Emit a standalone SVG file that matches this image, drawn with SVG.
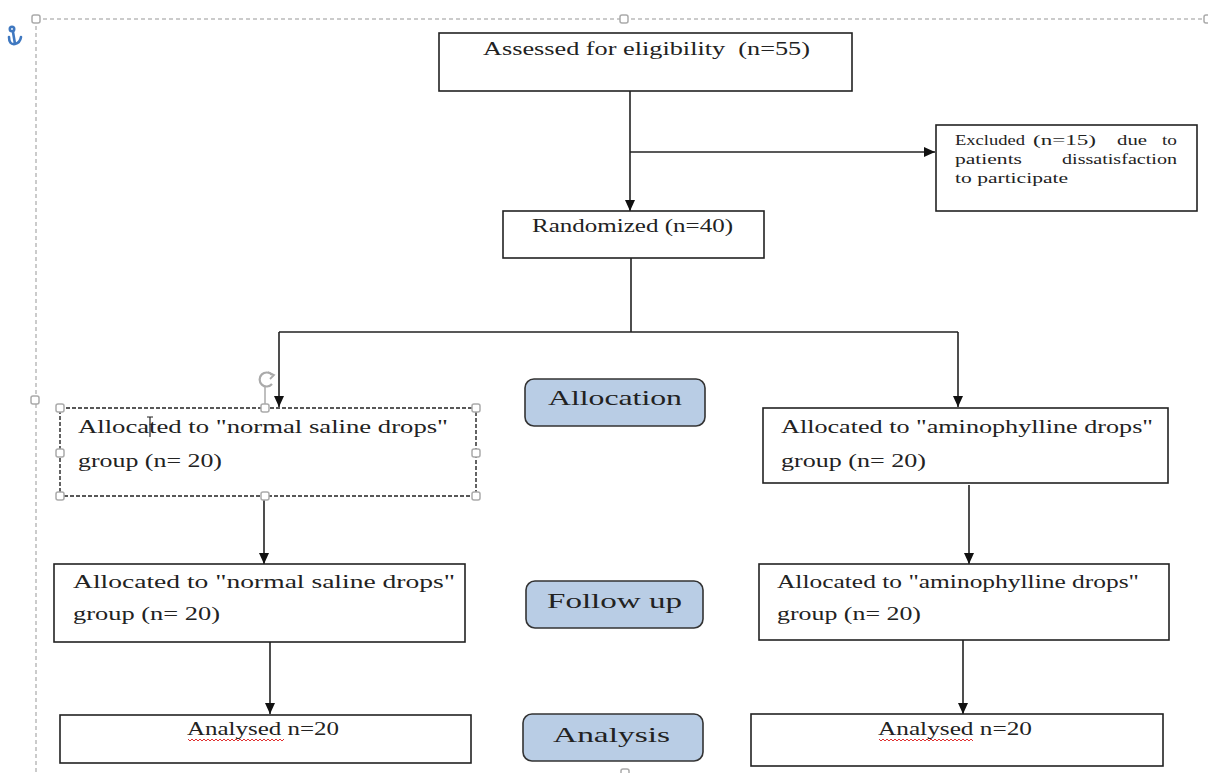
<svg xmlns="http://www.w3.org/2000/svg" width="1208" height="773" viewBox="0 0 1208 773">
<style>
.box{fill:#fff;stroke:#222;stroke-width:1.6}
.stage{fill:#b9cde5;stroke:#333;stroke-width:1.6}
.t{font-family:"Liberation Serif","Times New Roman",serif;fill:#222}
.m{font-size:18px}
.s{font-size:15px}
.st{font-size:21px}
.con{fill:none;stroke:#222;stroke-width:1.6}
.hd{fill:#fff;stroke:#aaa;stroke-width:1.5}
.frame{fill:none;stroke:#bbb;stroke-width:1.5;stroke-dasharray:4 3}
.wave{fill:none;stroke:#e03030;stroke-width:1}
</style>
<defs>
<marker id="arr" markerUnits="userSpaceOnUse" markerWidth="12" markerHeight="12" refX="11" refY="5" orient="auto">
<path d="M0,0 L11,5 L0,10 Z" fill="#111"/>
</marker>
</defs>
<rect width="1208" height="773" fill="#fff"/>

<g id="frame">
<path class="frame" d="M36,19 H1208 M36,19 V773"/>
<rect class="hd" x="32" y="15" width="8" height="8" rx="2"/>
<rect class="hd" x="620" y="15" width="8" height="8" rx="2"/>
<rect class="hd" x="1204" y="15" width="8" height="8" rx="2"/>
<rect class="hd" x="31" y="396" width="8" height="8" rx="2"/>
<rect class="hd" x="621" y="769" width="8" height="8" rx="2"/>
<g id="anchor" fill="none" stroke="#3f78c0" stroke-width="2.6" stroke-linecap="round">
<circle cx="12" cy="29" r="2.2"/>
<path d="M13,32 L15,44 M9,37 Q9,45 15,44 Q20,43 21,37"/>
</g>
</g>

<g id="connectors">
<path class="con" d="M630,91 V211" marker-end="url(#arr)"/>
<path class="con" d="M630,152 H935" marker-end="url(#arr)"/>
<path class="con" d="M631,258 V332 M279,332 H958"/>
<path class="con" d="M279,332 V407" marker-end="url(#arr)"/>
<path class="con" d="M958,332 V407" marker-end="url(#arr)"/>
<path class="con" d="M264,500 V564" marker-end="url(#arr)"/>
<path class="con" d="M969,485 V564" marker-end="url(#arr)"/>
<path class="con" d="M270,642 V714" marker-end="url(#arr)"/>
<path class="con" d="M963,640 V714" marker-end="url(#arr)"/>
</g>

<g id="n-assessed">
<rect class="box" x="439" y="33" width="413" height="58"/>
<text class="t m" x="483" y="55" textLength="327" lengthAdjust="spacingAndGlyphs">Assessed for eligibility &#160;(n=55)</text>
</g>

<g id="n-excluded">
<rect class="box" x="936" y="125" width="261" height="86"/>
<text class="t s" x="955" y="145" textLength="70" lengthAdjust="spacingAndGlyphs">Excluded</text>
<text class="t s" x="1033" y="145" textLength="63" lengthAdjust="spacingAndGlyphs">(n=15)</text>
<text class="t s" x="1117" y="145" textLength="30" lengthAdjust="spacingAndGlyphs">due</text>
<text class="t s" x="1162" y="145" textLength="15" lengthAdjust="spacingAndGlyphs">to</text>
<text class="t s" x="955" y="164" textLength="67" lengthAdjust="spacingAndGlyphs">patients</text>
<text class="t s" x="1062" y="164" textLength="115" lengthAdjust="spacingAndGlyphs">dissatisfaction</text>
<text class="t s" x="955" y="183" textLength="113" lengthAdjust="spacingAndGlyphs">to participate</text>
</g>

<g id="n-randomized">
<rect class="box" x="503" y="211" width="261" height="47"/>
<text class="t m" x="532" y="232" textLength="201" lengthAdjust="spacingAndGlyphs">Randomized (n=40)</text>
</g>

<g id="n-allocation">
<rect class="stage" x="525" y="379" width="180" height="47" rx="9"/>
<text class="t st" x="548" y="405" textLength="134" lengthAdjust="spacingAndGlyphs">Allocation</text>
</g>

<g id="n-alloc-saline">
<rect x="60" y="408" width="416" height="88" fill="#fff" stroke="#222" stroke-width="1.4" stroke-dasharray="4 2"/>
<text class="t m" x="78" y="433" textLength="370" lengthAdjust="spacingAndGlyphs">Allocated to "normal saline drops"</text>
<text class="t m" x="78" y="467" textLength="144" lengthAdjust="spacingAndGlyphs">group (n= 20)</text>
<path d="M150,417 V437 M147,417 H153" stroke="#222" stroke-width="1.2"/>
<path d="M265,386 V404" stroke="#aaa" stroke-width="1.5"/>
<path d="M272,375 A7,7 0 1 0 272,384" fill="none" stroke="#aaa" stroke-width="2.2"/>
<path d="M268,372 L274,375 L270,379" fill="none" stroke="#aaa" stroke-width="1.8"/>
<rect class="hd" x="56" y="404" width="8" height="8" rx="2"/>
<rect class="hd" x="261" y="404" width="8" height="8" rx="2"/>
<rect class="hd" x="472" y="404" width="8" height="8" rx="2"/>
<rect class="hd" x="56" y="449" width="8" height="8" rx="2"/>
<rect class="hd" x="472" y="449" width="8" height="8" rx="2"/>
<rect class="hd" x="56" y="492" width="8" height="8" rx="2"/>
<rect class="hd" x="261" y="492" width="8" height="8" rx="2"/>
<rect class="hd" x="472" y="492" width="8" height="8" rx="2"/>
</g>

<g id="n-alloc-amino">
<rect class="box" x="763" y="408" width="405" height="75"/>
<text class="t m" x="781" y="433" textLength="372" lengthAdjust="spacingAndGlyphs">Allocated to "aminophylline drops"</text>
<text class="t m" x="781" y="467" textLength="145" lengthAdjust="spacingAndGlyphs">group (n= 20)</text>
</g>

<g id="n-fu-saline">
<rect class="box" x="54" y="564" width="411" height="78"/>
<text class="t m" x="73" y="588" textLength="382" lengthAdjust="spacingAndGlyphs">Allocated to "normal saline drops"</text>
<text class="t m" x="73" y="620" textLength="147" lengthAdjust="spacingAndGlyphs">group (n= 20)</text>
</g>

<g id="n-followup">
<rect class="stage" x="526" y="581" width="177" height="47" rx="9"/>
<text class="t st" x="547" y="608" textLength="135" lengthAdjust="spacingAndGlyphs">Follow up</text>
</g>

<g id="n-fu-amino">
<rect class="box" x="759" y="564" width="410" height="76"/>
<text class="t m" x="777" y="588" textLength="362" lengthAdjust="spacingAndGlyphs">Allocated to "aminophylline drops"</text>
<text class="t m" x="777" y="620" textLength="144" lengthAdjust="spacingAndGlyphs">group (n= 20)</text>
</g>

<g id="n-an-saline">
<rect class="box" x="60" y="715" width="411" height="48"/>
<text class="t m" x="187" y="735" textLength="152" lengthAdjust="spacingAndGlyphs">Analysed n=20</text>
<path class="wave" d="M188,739 l2,2 l2,-2 l2,2 l2,-2 l2,2 l2,-2 l2,2 l2,-2 l2,2 l2,-2 l2,2 l2,-2 l2,2 l2,-2 l2,2 l2,-2 l2,2 l2,-2 l2,2 l2,-2 l2,2 l2,-2 l2,2 l2,-2 l2,2 l2,-2 l2,2 l2,-2 l2,2 l2,-2 l2,2 l2,-2 l2,2 l2,-2 l2,2 l2,-2 l2,2 l2,-2 l2,2 l2,-2 l2,2 l2,-2 l2,2 l2,-2 l2,2 l2,-2 l2,2 l2,-2"/>
</g>

<g id="n-analysis">
<rect class="stage" x="523" y="714" width="180" height="47" rx="9"/>
<text class="t st" x="553" y="742" textLength="117" lengthAdjust="spacingAndGlyphs">Analysis</text>
</g>

<g id="n-an-amino">
<rect class="box" x="751" y="714" width="412" height="52"/>
<text class="t m" x="878" y="735" textLength="154" lengthAdjust="spacingAndGlyphs">Analysed n=20</text>
<path class="wave" d="M879,739 l2,2 l2,-2 l2,2 l2,-2 l2,2 l2,-2 l2,2 l2,-2 l2,2 l2,-2 l2,2 l2,-2 l2,2 l2,-2 l2,2 l2,-2 l2,2 l2,-2 l2,2 l2,-2 l2,2 l2,-2 l2,2 l2,-2 l2,2 l2,-2 l2,2 l2,-2 l2,2 l2,-2 l2,2 l2,-2 l2,2 l2,-2 l2,2 l2,-2 l2,2 l2,-2 l2,2 l2,-2 l2,2 l2,-2 l2,2 l2,-2 l2,2 l2,-2 l2,2"/>
</g>
</svg>
